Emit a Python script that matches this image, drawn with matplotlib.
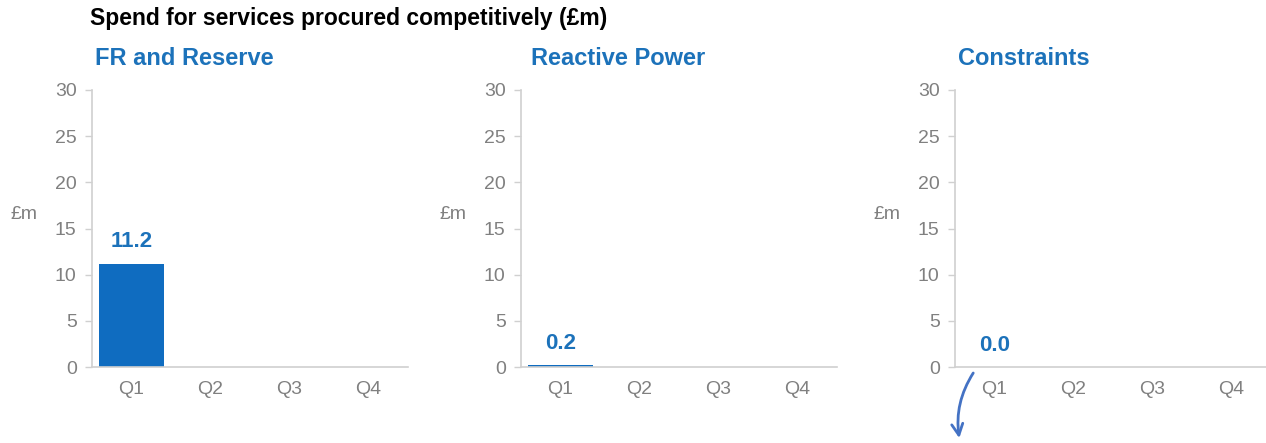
import numpy as np
import matplotlib
matplotlib.use("Agg")
import matplotlib.pyplot as plt

plt.rcParams['font.family'] = ['Liberation Sans', 'DejaVu Sans']

## Chart data
quarters = ["Q1", "Q2", "Q3", "Q4"]
panel_titles = ["FR and Reserve", "Reactive Power", "Constraints"]
fr_reserve = [11.2]
reactive_power = [0.2]
constraints = [0.0]
series = [fr_reserve, reactive_power, constraints]
yticks = [0, 5, 10, 15, 20, 25, 30]

bar_color = "#0f6cc0"
label_blue = "#1c72ba"
grey = "#808080"
spine = "#d0d0d0"

W, H = 1266, 443
fig = plt.figure(figsize=(W / 100, H / 100), dpi=100, facecolor='w')

fig.text(90 / W, 1 - 19 / H, "Spend for services procured competitively (£m)",
         fontsize=16.5, fontweight='bold', color='black', ha='left', va='center')

lefts = [92, 521, 955]
title_offsets = [3, 10, 3]
for left, off, title, vals in zip(lefts, title_offsets, panel_titles, series):
    ax = fig.add_axes([left / W, (H - 367) / H, 316 / W, 277 / H])
    x = np.arange(len(vals))
    ax.bar(x, vals, width=0.82, color=bar_color)
    for xi, v in zip(x, vals):
        ax.annotate(f"{v:.1f}", (xi, v), xytext=(0, 8), textcoords='offset points',
                    ha='center', va='bottom', fontsize=16, fontweight='bold',
                    color=label_blue)
    ax.set_xlim(-0.5, 3.5)
    ax.set_ylim(0, 30)
    ax.set_xticks(range(len(quarters)))
    ax.set_xticklabels(quarters)
    ax.set_yticks(yticks)
    ax.tick_params(axis='x', length=0, pad=10, labelsize=14, labelcolor=grey)
    ax.tick_params(axis='y', length=5, width=1, color=spine, pad=6,
                   labelsize=14, labelcolor=grey)
    for s in ['top', 'right']:
        ax.spines[s].set_visible(False)
    for s in ['left', 'bottom']:
        ax.spines[s].set_color(spine)
        ax.spines[s].set_linewidth(1.2)
    ax.text(off / 316, 1.112, title, transform=ax.transAxes, ha='left', va='center',
            fontsize=17, fontweight='bold', color=label_blue)
    ax.text(-68 / 316, 0.55, "£m", transform=ax.transAxes, ha='center', va='center',
            fontsize=14, color=grey)
    if title == "Constraints":
        ax.annotate("", xy=(-0.44, -8.0), xytext=(-0.25, -0.4),
                    arrowprops=dict(arrowstyle='->', color="#4472c4", lw=2,
                                    connectionstyle="arc3,rad=0.2",
                                    mutation_scale=20),
                    annotation_clip=False)

fig.savefig("out.png", dpi=100)
